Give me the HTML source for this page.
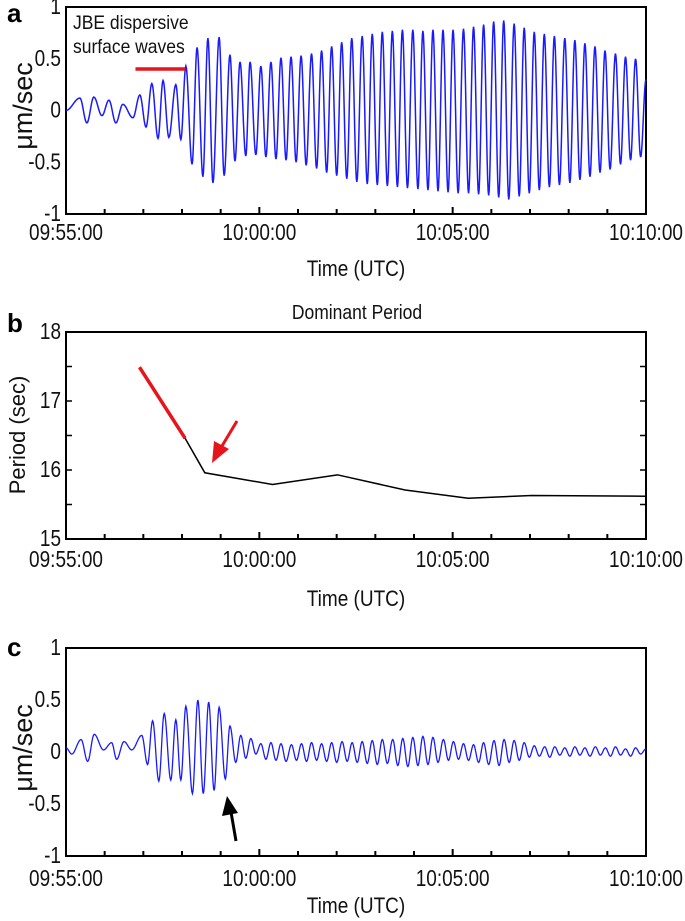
<!DOCTYPE html>
<html><head><meta charset="utf-8"><style>
html,body{margin:0;padding:0;background:#fff;}
svg{display:block;font-family:"Liberation Sans",Arial,sans-serif;}
</style></head><body>
<svg id="fig" width="685" height="921" viewBox="0 0 685 921" xmlns="http://www.w3.org/2000/svg"></svg>
<script>
// ---- data ----
const xTickLabels = ["09:55:00","10:00:00","10:05:00","10:10:00"];
const xTickMinutes = [0,5,10,15];
const yTicksAC = [1,0.5,0,-0.5,-1];
const yTickLabelsAC = ["1","0.5","0","-0.5","-1"];
const yTicksB = [18,17,16,15];
const yTickLabelsB = ["18","17","16","15"];

// panel a: extrema (minutes after 09:55, um/s)
const aEarlyT = [0,0.36,0.54,0.72,0.93,1.11,1.29,1.47,1.73,1.91,2.07,2.22,2.38,2.51,2.66,2.84,2.97,3.10,3.26,3.39,3.54,3.67,3.80,3.96,4.09,4.24,4.37,4.50,4.65,4.76,4.91,5.04,5.17,5.30,5.43];
const aEarlyV = [0,0.12,-0.12,0.13,-0.05,0.10,-0.12,0.06,-0.07,0.15,-0.16,0.26,-0.27,0.29,-0.26,0.25,-0.28,0.43,-0.52,0.61,-0.64,0.70,-0.70,0.71,-0.63,0.54,-0.49,0.47,-0.44,0.47,-0.43,0.43,-0.45,0.47,-0.47];
const aLateMaxT = [5.56,5.82,6.08,6.35,6.61,6.87,7.13,7.39,7.66,7.92,8.18,8.44,8.70,8.97,9.23,9.49,9.75,10.01,10.28,10.54,10.80,11.06,11.32,11.59,11.85,12.11,12.37,12.63,12.90,13.16,13.42,13.68,13.94,14.21,14.47,14.73];
const aLateMaxV = [0.51,0.52,0.53,0.55,0.58,0.62,0.66,0.70,0.72,0.74,0.76,0.77,0.78,0.78,0.77,0.78,0.78,0.78,0.79,0.81,0.83,0.86,0.87,0.84,0.80,0.76,0.74,0.72,0.70,0.68,0.65,0.62,0.58,0.55,0.52,0.50];
const aLateMinV = [-0.48,-0.50,-0.53,-0.56,-0.60,-0.63,-0.66,-0.69,-0.71,-0.72,-0.73,-0.74,-0.75,-0.76,-0.77,-0.78,-0.79,-0.80,-0.80,-0.81,-0.82,-0.84,-0.86,-0.83,-0.80,-0.77,-0.74,-0.72,-0.70,-0.67,-0.64,-0.60,-0.57,-0.52,-0.48,-0.45];
const aEnd = [15.0, 0.30];

// panel b: dominant period
const bRedT = [1.90,3.08];
const bRedV = [17.49,16.46];
const bT = [3.08,3.59,5.34,7.02,8.77,10.40,12.04,15.0];
const bV = [16.46,15.96,15.79,15.93,15.71,15.59,15.63,15.62];

// panel c: extrema
const cEarlyT = [0,0.15,0.39,0.56,0.73,0.97,1.18,1.31,1.50,1.70,1.96,2.11,2.24,2.40,2.54,2.71,2.84,2.97,3.10,3.27,3.41,3.55,3.69,3.83,3.96,4.12,4.24,4.39,4.52,4.65,4.78,4.91];
const cEarlyV = [0.04,-0.02,0.12,-0.09,0.17,0.02,0.09,-0.07,0.10,0.02,0.16,-0.12,0.30,-0.28,0.37,-0.27,0.31,-0.27,0.44,-0.40,0.50,-0.40,0.48,-0.37,0.43,-0.26,0.25,-0.10,0.16,-0.06,0.13,-0.02];
const cLateMaxT = [5.04,5.30,5.56,5.83,6.09,6.35,6.61,6.87,7.14,7.40,7.66,7.92,8.18,8.45,8.71,8.97,9.23,9.49,9.76,10.02,10.28,10.54,10.80,11.07,11.33,11.59,11.85,12.11,12.38,12.64,12.90,13.16,13.42,13.69,13.95,14.21,14.47,14.73];
const cLateMaxV = [0.08,0.09,0.08,0.07,0.08,0.09,0.08,0.09,0.10,0.09,0.10,0.11,0.12,0.12,0.13,0.14,0.15,0.14,0.12,0.10,0.08,0.07,0.09,0.11,0.12,0.11,0.09,0.06,0.05,0.05,0.04,0.05,0.04,0.05,0.04,0.05,0.03,0.04];
const cLateMinV = [-0.07,-0.08,-0.09,-0.08,-0.09,-0.08,-0.09,-0.10,-0.09,-0.10,-0.11,-0.12,-0.11,-0.13,-0.14,-0.13,-0.12,-0.10,-0.08,-0.07,-0.08,-0.10,-0.12,-0.13,-0.10,-0.08,-0.05,-0.04,-0.05,-0.03,-0.04,-0.03,-0.04,-0.03,-0.04,-0.03,-0.04,-0.02];
const cEnd = [15.0, 0.03];
const HALF = 0.131;

// ---- drawing ----
const NS="http://www.w3.org/2000/svg";
const svg=document.getElementById('fig');
function el(tag,attrs,parent){const e=document.createElementNS(NS,tag);for(const k in attrs)e.setAttribute(k,attrs[k]);(parent||svg).appendChild(e);return e;}
function txt(s,attrs,parent){const e=el('text',attrs,parent);e.textContent=s;return e;}

const X0=66,X1=646;
const xs=t=>X0+(X1-X0)*t/15;

function panel(cfg){
  const g=el('g',{});
  
  
  const ys=v=>cfg.top+(cfg.max-v)/(cfg.max-cfg.min)*(cfg.bot-cfg.top);
  const box=el('rect',{x:X0,y:cfg.top,width:X1-X0,height:cfg.bot-cfg.top,fill:'none',stroke:'#000','stroke-width':2},g);
  
  
  for(let m=1;m<15;m++){
    const len=(m%5===0)?7:5;
    el('line',{x1:xs(m),x2:xs(m),y1:cfg.bot,y2:cfg.bot-len,stroke:'#000','stroke-width':2},g);
  }
  xTickMinutes.forEach((m,i)=>{
    const t=txt(xTickLabels[i],{x:0,y:0,'text-anchor':'middle','font-size':19,fill:'#111',transform:`translate(${xs(m)},${cfg.xlabY}) scale(1,1.2)`},g);
    
    
  });
  cfg.yt.forEach((v,i)=>{
    const t=txt(cfg.ytl[i],{x:0,y:0,'text-anchor':'end','font-size':19,fill:'#111',transform:`translate(61,${ys(v)+7}) scale(1,1.2)`},g);
    
    
  });
  if(cfg.minorY){
    cfg.minorY.forEach(v=>{
      el('line',{x1:X0,x2:X0+6,y1:ys(v),y2:ys(v),stroke:'#000','stroke-width':1.5},g);
      el('line',{x1:X1,x2:X1-6,y1:ys(v),y2:ys(v),stroke:'#000','stroke-width':1.5},g);
    });
  }
  const xt=txt('Time (UTC)',{x:0,y:0,'text-anchor':'middle','font-size':19,fill:'#111',transform:`translate(356,${cfg.timeY}) scale(1,1.15)`},g);
  
  
  const yt=txt(cfg.ytitle,{x:0,y:0,'text-anchor':'middle','font-size':cfg.ytSize,fill:'#111',transform:`translate(${cfg.ytX},${cfg.ytY}) rotate(-90)`},g);
  
  
  const pl=txt(cfg.letter,{x:7,y:cfg.letterY,'font-size':26,'font-weight':'bold',fill:'#000'},g);
  
  
  return {g,ys};
}

function buildExtrema(eT,eV,maxT,maxV,minV,end){
  const T=eT.slice(),V=eV.slice();
  for(let i=0;i<maxT.length;i++){T.push(maxT[i]);V.push(maxV[i]);T.push(maxT[i]+HALF);V.push(minV[i]);}
  T.push(end[0]);V.push(end[1]);
  return [T,V];
}
function wavePath(T,V,ys){
  let d=`M${xs(T[0]).toFixed(2)},${ys(V[0]).toFixed(2)}`;
  for(let i=0;i<T.length-1;i++){
    const n=10;
    for(let k=1;k<=n;k++){
      const f=k/n,w=(1-Math.cos(Math.PI*f))/2;
      const t=T[i]+(T[i+1]-T[i])*f,v=V[i]+(V[i+1]-V[i])*w;
      d+=`L${xs(t).toFixed(2)},${ys(v).toFixed(2)}`;
    }
  }
  return d;
}

// Panel a
const A=panel({name:'panel-a',top:7,bot:214,max:1,min:-1,yt:yTicksAC,ytl:yTickLabelsAC,xlabY:240,timeY:276,ytitle:'\u03bcm/sec',ytX:32,ytY:106,ytSize:27,letter:'a',letterY:22});
const [aT,aV]=buildExtrema(aEarlyT,aEarlyV,aLateMaxT,aLateMaxV,aLateMinV,aEnd);
const aw=el('path',{d:wavePath(aT,aV,A.ys),fill:'none',stroke:'#1a1aff','stroke-width':1.5},A.g);


const t1=txt('JBE dispersive',{x:0,y:0,'font-size':17.5,fill:'#111',transform:'translate(73,29) scale(1,1.1)'},A.g);


const t2=txt('surface waves',{x:0,y:0,'font-size':17.5,fill:'#111',transform:'translate(73,53) scale(1,1.1)'},A.g);


const rb=el('line',{x1:xs(bRedT[0])-4,x2:xs(bRedT[1]),y1:69,y2:69,stroke:'#e8141c','stroke-width':3.5},A.g);



// Panel b
const B=panel({name:'panel-b',top:332,bot:539,max:18,min:15,yt:yTicksB,ytl:yTickLabelsB,minorY:[17.5,17,16.5,16,15.5],xlabY:567,timeY:606,ytitle:'Period (sec)',ytX:25,ytY:435,ytSize:22,letter:'b',letterY:332});
const bt=txt('Dominant Period',{x:0,y:0,'text-anchor':'middle','font-size':17.5,fill:'#111',transform:'translate(357,319) scale(1,1.15)'},B.g);


const redLine=el('polyline',{points:bRedT.map((t,i)=>`${xs(t)},${B.ys(bRedV[i])}`).join(' '),fill:'none',stroke:'#e8141c','stroke-width':3.5},B.g);


const bl=el('polyline',{points:bT.map((t,i)=>`${xs(t)},${B.ys(bV[i])}`).join(' '),fill:'none',stroke:'#000','stroke-width':1.5},B.g);


const ra=el('g',{},B.g);


el('line',{x1:237,y1:421,x2:222,y2:446,stroke:'#e8141c','stroke-width':3},ra);
el('polygon',{points:'212,463 214,441 229,449',fill:'#e8141c'},ra);

// Panel c
const C=panel({name:'panel-c',top:648,bot:856,max:1,min:-1,yt:yTicksAC,ytl:yTickLabelsAC,xlabY:886,timeY:913,ytitle:'\u03bcm/sec',ytX:32,ytY:748,ytSize:27,letter:'c',letterY:656});
const [cT,cV]=buildExtrema(cEarlyT,cEarlyV,cLateMaxT,cLateMaxV,cLateMinV,cEnd);
const cw=el('path',{d:wavePath(cT,cV,C.ys),fill:'none',stroke:'#1a1aff','stroke-width':1.3},C.g);


const ba=el('g',{},C.g);


el('line',{x1:236,y1:841,x2:231,y2:812,stroke:'#000','stroke-width':3},ba);
el('polygon',{points:'227,796 222,816 238,813',fill:'#000'},ba);
</script>
</body></html>
